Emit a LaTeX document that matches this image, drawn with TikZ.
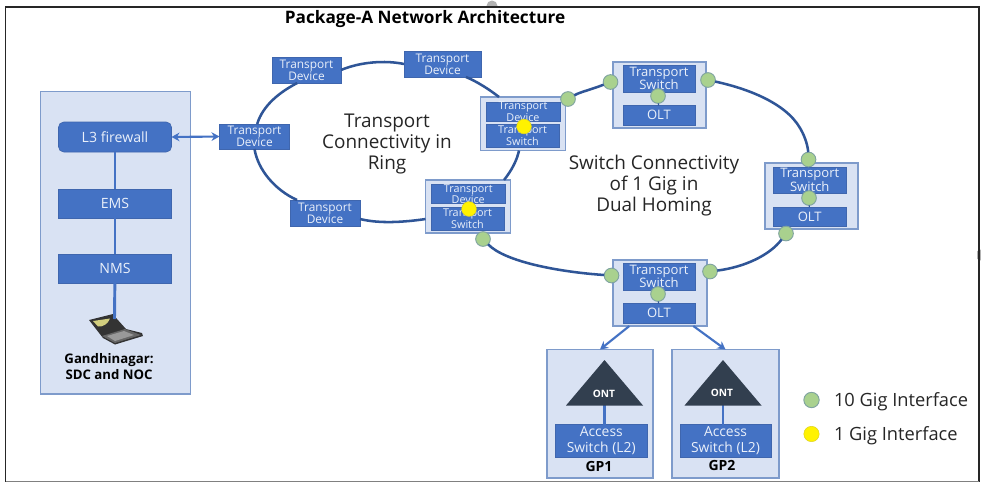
\documentclass[tikz,border=0pt]{standalone}
\usepackage{fontspec}
\setmainfont{Open Sans}
\usetikzlibrary{arrows.meta,calc}
\definecolor{bluefill}{HTML}{4472C4}
\definecolor{bluedge}{HTML}{3F66AE}
\definecolor{lightfill}{HTML}{D9E2F3}
\definecolor{lightedge}{HTML}{7E9BCB}
\definecolor{ringcol}{HTML}{2F5597}
\definecolor{greenfill}{HTML}{A9D18E}
\definecolor{greenedge}{HTML}{7FA3A0}
\definecolor{trianglecol}{HTML}{323F4F}
\definecolor{textwhite}{HTML}{EAF0FA}
\definecolor{textdark}{HTML}{262626}
\tikzset{
  anynode/.style={inner sep=0pt,outer sep=0pt,align=center},
  panel/.style={anynode,draw=lightedge,fill=lightfill,line width=1.1pt},
  device/.style={anynode,draw=bluedge,fill=bluefill,line width=0.5pt,text=textwhite,font=\fontsize{8.9}{9}\selectfont},
  smalldevice/.style={device,font=\fontsize{8.1}{8.6}\selectfont},
  swdevice/.style={device,font=\fontsize{9.8}{10}\selectfont},
  large/.style={device,font=\fontsize{10.4}{12}\selectfont},
  bigger/.style={device,font=\fontsize{10.6}{12}\selectfont},
  ring/.style={draw=ringcol,line width=1.9pt},
  link/.style={draw=bluefill,line width=2.2pt},
  portg/.style={circle,anynode,minimum size=11pt,draw=greenedge,fill=greenfill,line width=0.7pt},
  porty/.style={circle,anynode,minimum size=11pt,draw=yellow!85!black,fill=yellow,line width=0.4pt},
  label/.style={anynode,text=textdark,font=\fontsize{14.2}{15.7}\selectfont},
  boldlabel/.style={anynode,text=black,font=\bfseries\fontsize{9.9}{12}\selectfont},
  arrowlink/.style={draw=bluefill,line width=1.6pt,-{Stealth[length=6pt,width=6.5pt]}}
}
\newcommand{\bx}[6]{%
  \pgfmathsetmacro{\cxx}{(#2+#4)/2}\pgfmathsetmacro{\cyy}{(#3+#5)/2}%
  \pgfmathsetmacro{\wdd}{(#4-#2)*0.75}\pgfmathsetmacro{\htt}{(#5-#3)*0.75}%
  \node[#6,minimum width=\wdd pt,minimum height=\htt pt] (#1) at (\cxx,\cyy)}
\begin{document}
\begin{tikzpicture}[x=0.75pt,y=-0.75pt]
\useasboundingbox (0,0) rectangle (981,483);
\fill[white] (0,0) rectangle (981,483);
% frame artefacts
\fill[gray!60] (492,6) circle (5.5);
\fill[gray!60] (981,255) circle (5.5);
\fill[white] (8,8) rectangle (977,481);
\draw[black!85,line width=1.1pt] (5.5,481.5) -- (5.5,7) -- (979,7) -- (979,481.5);
\draw[black!50,line width=0.9pt] (5.5,481.7) -- (979,481.7);
% title
\node[anynode,text=black,font=\bfseries\fontsize{12.9}{15}\selectfont] (title) at (425,19.5) {Package-A Network Architecture};
% left panel
\bx{sdc}{40.5}{91.5}{190.5}{394}{panel}{};
\bx{fw}{58.5}{122}{171.5}{152}{bigger,rounded corners=4pt}{L3 firewall};
\bx{ems}{58.5}{189}{171.5}{218}{bigger}{EMS};
\bx{nms}{58.5}{254}{171.5}{283}{bigger}{NMS};
\coordinate (laptoptop) at (114.5,319);
\draw[link] (fw) -- (ems);
\draw[link] (ems) -- (nms);
% laptop
\fill[black!80] (89,320) -- (113,314) -- (117,319) -- (126,329) -- (142,333) -- (143,336) -- (115,344.5) -- (103,338) -- cycle;
\fill[black!60] (102,336) -- (125,329) -- (141,335) -- (115,343) -- cycle;
\fill[black!40] (107,336) -- (124,331) -- (134,335) -- (115,341) -- cycle;
\fill[olive!40!white] (93,321) -- (110,318.5) .. controls (108,324) and (103,327) .. (98,326.5) -- cycle;
\draw[link] (nms) -- (laptoptop);
\node[boldlabel] (sdclabel) at (109,367) {Gandhinagar:\\SDC and NOC};
% transport ring nodes
\bx{tdl}{219.5}{124}{289.5}{149}{device}{Transport\\Device};
\bx{tdtl}{272}{57}{341}{83}{device}{Transport\\Device};
\bx{tdt}{404}{51}{481}{77}{device}{Transport\\Device};
\bx{tdb}{290}{200}{360}{226}{device}{Transport\\Device};
% combined boxes
\bx{boxa}{480.5}{97}{565.5}{150.5}{panel}{};
\bx{boxb}{425.5}{180}{510.5}{233}{panel}{};
% ring
\draw[ring] ([xshift=2pt]tdl.north) .. controls (263,105) and (280,92) .. ([xshift=-7pt]tdtl.south);
\draw[ring] (tdl.south) .. controls (258,170) and (275,190) .. ([xshift=-21pt]tdb.north);
\draw[ring] (tdtl.east) .. controls (360,62) and (385,60) .. (tdt.west);
\draw[ring] ([yshift=-4.5pt]tdb.east) .. controls (380,224) and (405,222) .. ([yshift=-9.4pt]boxb.west);
\draw[ring] ([xshift=17.6pt]tdt.south) .. controls (478,82) and (490,90) .. ([xshift=-18pt]boxa.north);
\draw[ring] ([xshift=-3pt]boxa.south) .. controls (517,160) and (512,170) .. ([xshift=27pt]boxb.north);
\draw[draw=bluefill,line width=1.6pt,{Stealth[length=6pt,width=6.5pt]}-{Stealth[length=6pt,width=6.5pt]}] (fw.east) -- (tdl.west);
% inner of combined
\bx{atd}{486}{102}{560}{121}{smalldevice}{Transport\\Device};
\bx{ats}{486}{124}{559}{147}{smalldevice}{Transport\\Switch};
\bx{btd}{431.5}{184.5}{505}{203.5}{smalldevice}{Transport\\Device};
\bx{bts}{431}{207}{504}{230}{smalldevice}{Transport\\Switch};
\node[porty] (ya) at (524,126.5) {};
\node[porty] (yb) at (469,209) {};
% switch boxes
\bx{boxc}{613}{62}{706}{128}{panel}{};
\bx{cts}{623}{65}{695}{92}{swdevice}{Transport\\Switch};
\bx{colt}{623}{105.5}{695}{125}{swdevice}{OLT};
\bx{boxd}{765}{163}{858}{229}{panel}{};
\bx{dts}{773}{167}{846.5}{193}{swdevice}{Transport\\Switch};
\bx{dolt}{773}{207}{846.5}{226}{swdevice}{OLT};
\bx{boxe}{613}{260}{707}{326}{panel}{};
\bx{ets}{623}{263}{695}{290}{swdevice}{Transport\\Switch};
\bx{eolt}{623}{303.5}{695}{323}{swdevice}{OLT};
% ports
\node[portg] (p1) at (568,99) {};
\node[portg] (p2) at (610.5,82) {};
\node[portg] (p3) at (708,80) {};
\node[portg] (p4) at (808.5,159.5) {};
\node[portg] (p5) at (786,233.5) {};
\node[portg] (p6) at (710,271.5) {};
\node[portg] (p7) at (611.5,275.5) {};
\node[portg] (p8) at (483,239) {};
\node[portg] (p9) at (658,96) {};
\node[portg] (p10) at (809,198) {};
\node[portg] (p11) at (658,294) {};
\draw[ring,line width=0.9pt] (p9) -- (colt);
\draw[ring,line width=0.9pt] (p10) -- (dolt);
\draw[ring,line width=0.9pt] (p11) -- (eolt);
\draw[ring] (p1) .. controls (580,92) and (590,90) .. (p2);
\draw[ring] (p3) .. controls (745,88) and (785,102) .. (800,128) .. controls (806,138) and (808,148) .. (p4);
\draw[ring] (p5) .. controls (770,255) and (745,267) .. (p6);
\draw[ring] (p8) .. controls (505,262) and (560,272) .. (p7);
% GP
\bx{gp1}{547}{349.5}{653}{478}{panel}{};
\bx{gp2}{672}{349.5}{779}{478}{panel}{};
\draw[arrowlink] ([xshift=-23pt]boxe.south) -- (gp1.north);
\draw[arrowlink] ([xshift=25pt]boxe.south) -- (gp2.north);
\bx{acc1}{555.5}{424.5}{647}{457}{large}{Access\\Switch (L2)};
\bx{acc2}{680}{424.5}{771}{457}{large}{Access\\Switch (L2)};
\coordinate (t1base) at (604.5,405);
\coordinate (t2base) at (723,405);
\draw[link] (t1base) -- (t1base |- acc1.north);
\draw[link] (t2base) -- (t2base |- acc2.north);
\fill[trianglecol] (604.5,360) -- (643,405.5) -- (566,405.5) -- cycle;
\fill[trianglecol] (723,360) -- (761.5,405.5) -- (684.5,405.5) -- cycle;
\node[anynode,text=white,font=\bfseries\fontsize{7.6}{8}\selectfont] (ont1) at (604,394) {ONT};
\node[anynode,text=white,font=\bfseries\fontsize{7.6}{8}\selectfont] (ont2) at (722,393) {ONT};
\node[boldlabel,font=\bfseries\fontsize{10.5}{12}\selectfont] (gp1l) at (599,466.5) {GP1};
\node[boldlabel,font=\bfseries\fontsize{10.5}{12}\selectfont] (gp2l) at (722,465.5) {GP2};
% labels
\node[label] (ringlabel) at (387,144) {Transport\\Connectivity in\\Ring};
\node[label] (switchlabel) at (654,185.5) {Switch Connectivity\\of 1 Gig in\\Dual Homing};
% legend
\node[portg,minimum size=11.5pt] (lg) at (811.5,400) {};
\node[porty,minimum size=11.5pt] (ly) at (811.5,434) {};
\node[label,anchor=west,font=\fontsize{13.7}{14}\selectfont] (lgt) at (834,401.5) {10 Gig Interface};
\node[label,anchor=west,font=\fontsize{13.7}{14}\selectfont] (lyt) at (834,435.5) {1 Gig Interface};
\end{tikzpicture}
\end{document}
